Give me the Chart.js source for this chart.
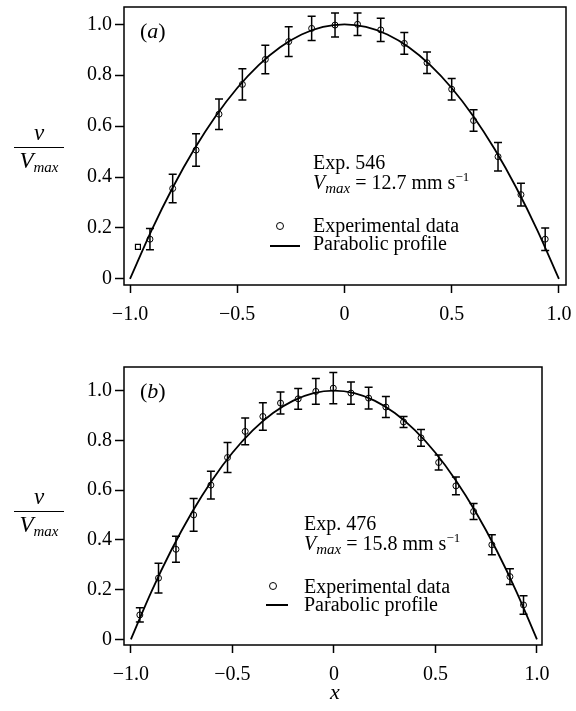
<!DOCTYPE html>
<html>
<head>
<meta charset="utf-8">
<script src="https://cdn.jsdelivr.net/npm/chart.js@4"></script>
<style>
  body { margin: 0; background: #fff; }
  #wrap { position: relative; width: 576px; height: 711px; font-family: "Liberation Serif", serif; color: #000; }
  canvas { position: absolute; left: 0; }
  .t { position: absolute; font-size: 20px; line-height: 20px; white-space: nowrap; }
  .i { font-style: italic; }
  sub { font-size: 15px; font-style: italic; vertical-align: -4px; line-height: 0; }
  sup { font-size: 13px; vertical-align: 8px; line-height: 0; }
  .frac { position: absolute; width: 50px; text-align: center; font-size: 23px; }
  .frac .num { font-style: italic; line-height: 24px; padding-bottom: 2px; border-bottom: 1.5px solid #000; }
  .frac .den { font-style: italic; line-height: 26px; }
  .lgcircle { position: absolute; width: 6px; height: 6px; border: 1px solid #000; border-radius: 50%; }
  .lgline { position: absolute; height: 2px; background: #000; }
</style>
</head>
<body>
<div id="wrap">
  <canvas id="chartA" width="576" height="330" style="top:0"></canvas>
  <canvas id="chartB" width="576" height="381" style="top:330px"></canvas>

  <div class="frac" style="left:14px; top:121px"><div class="num">v</div><div class="den">V<sub>max</sub></div></div>
  <div class="frac" style="left:14px; top:485px"><div class="num">v</div><div class="den">V<sub>max</sub></div></div>

  <div class="t" style="left:140px; top:21px; font-size:22px">(<span class="i">a</span>)</div>
  <div class="t" style="left:313px; top:152px">Exp. 546</div>
  <div class="t" style="left:313px; top:172px"><span class="i">V</span><sub>max</sub> = 12.7 mm s<sup>−1</sup></div>
  <div class="lgcircle" style="left:276px; top:222px"></div>
  <div class="t" style="left:313px; top:215px">Experimental data</div>
  <div class="lgline" style="left:270px; top:245px; width:30px"></div>
  <div class="t" style="left:313px; top:233px">Parabolic profile</div>

  <div class="t" style="left:140px; top:381px; font-size:22px">(<span class="i">b</span>)</div>
  <div class="t" style="left:304px; top:513px">Exp. 476</div>
  <div class="t" style="left:304px; top:533px"><span class="i">V</span><sub>max</sub> = 15.8 mm s<sup>−1</sup></div>
  <div class="lgcircle" style="left:269px; top:582px"></div>
  <div class="t" style="left:304px; top:576px">Experimental data</div>
  <div class="lgline" style="left:266px; top:604px; width:22px"></div>
  <div class="t" style="left:304px; top:594px">Parabolic profile</div>

  <div class="t i" style="left:330px; top:682px; font-size:22px">x</div>
</div>

<script>
// Data
const X_TICKS = [-1, -0.5, 0, 0.5, 1];
const Y_TICKS = [0, 0.2, 0.4, 0.6, 0.8, 1.0];

const PROFILE_X = [-1, -0.9, -0.8, -0.7, -0.6, -0.5, -0.4, -0.3, -0.2, -0.1, 0, 0.1, 0.2, 0.3, 0.4, 0.5, 0.6, 0.7, 0.8, 0.9, 1];
const PROFILE_Y = [0, 0.19, 0.36, 0.51, 0.64, 0.75, 0.84, 0.91, 0.96, 0.99, 1.0, 0.99, 0.96, 0.91, 0.84, 0.75, 0.64, 0.51, 0.36, 0.19, 0];

// (a) Exp. 546
const A_X = [-0.907, -0.801, -0.692, -0.585, -0.476, -0.369, -0.26, -0.153, -0.044, 0.061, 0.169, 0.279, 0.385, 0.5, 0.602, 0.716, 0.823, 0.936];
const A_Y = [0.156, 0.355, 0.506, 0.647, 0.764, 0.862, 0.932, 0.984, 0.997, 1.0, 0.978, 0.925, 0.849, 0.745, 0.622, 0.48, 0.331, 0.156];
const A_ERR = [0.042, 0.056, 0.064, 0.06, 0.061, 0.056, 0.058, 0.048, 0.047, 0.044, 0.046, 0.043, 0.042, 0.042, 0.042, 0.056, 0.045, 0.044];
const A_SQUARE_X = [-0.963];
const A_SQUARE_Y = [0.126];

// (b) Exp. 476
const B_X = [-0.956, -0.864, -0.778, -0.691, -0.606, -0.524, -0.437, -0.35, -0.263, -0.176, -0.089, -0.003, 0.084, 0.171, 0.256, 0.343, 0.429, 0.516, 0.601, 0.688, 0.778, 0.867, 0.934];
const B_Y = [0.098, 0.246, 0.362, 0.5, 0.62, 0.731, 0.836, 0.896, 0.95, 0.967, 0.997, 1.01, 0.99, 0.97, 0.934, 0.874, 0.81, 0.711, 0.617, 0.514, 0.38, 0.252, 0.138];
const B_ERR = [0.029, 0.06, 0.052, 0.066, 0.056, 0.06, 0.054, 0.055, 0.044, 0.042, 0.052, 0.063, 0.045, 0.044, 0.042, 0.022, 0.034, 0.03, 0.036, 0.032, 0.04, 0.032, 0.037];

const FONT = { family: "Liberation Serif", size: 20 };

function pairs(xs, ys) {
  return xs.map((x, i) => ({ x: x, y: ys[i] }));
}

function tickLabel(v) {
  if (v === 0) return "0";
  return (v < 0 ? "\u2212" : "") + Math.abs(v).toFixed(1);
}

// error bars + frame box
const errorBars = {
  id: "errorBars",
  afterDatasetsDraw(chart) {
    const ctx = chart.ctx;
    const xs = chart.scales.x;
    const ys = chart.scales.y;
    ctx.save();
    ctx.strokeStyle = "#000";
    ctx.lineWidth = 1.5;
    chart.data.datasets.forEach((ds) => {
      if (!ds.errors) return;
      ds.data.forEach((p, i) => {
        const px = xs.getPixelForValue(p.x);
        const top = ys.getPixelForValue(p.y + ds.errors[i]);
        const bot = ys.getPixelForValue(p.y - ds.errors[i]);
        ctx.beginPath();
        ctx.moveTo(px, top);
        ctx.lineTo(px, bot);
        ctx.moveTo(px - 4, top);
        ctx.lineTo(px + 4, top);
        ctx.moveTo(px - 4, bot);
        ctx.lineTo(px + 4, bot);
        ctx.stroke();
      });
    });
    const a = chart.chartArea;
    ctx.strokeRect(a.left, a.top, a.right - a.left, a.bottom - a.top);
    ctx.restore();
  },
};

function makeChart(id, opts) {
  const datasets = [
    {
      label: "Parabolic profile",
      data: pairs(PROFILE_X, PROFILE_Y),
      showLine: true,
      borderColor: "#000",
      borderWidth: 1.8,
      pointRadius: 0,
      cubicInterpolationMode: "monotone",
      order: 2,
    },
    {
      label: "Experimental data",
      data: pairs(opts.xs, opts.ys),
      errors: opts.errs,
      pointStyle: "circle",
      pointRadius: 3,
      pointBorderWidth: 1,
      pointBorderColor: "#000",
      pointBackgroundColor: "rgba(0,0,0,0)",
      showLine: false,
      order: 1,
    },
  ];
  if (opts.squareX) {
    datasets.push({
      label: "marker",
      data: pairs(opts.squareX, opts.squareY),
      pointStyle: "rect",
      pointRadius: 3.5,
      pointBorderWidth: 1.2,
      pointBorderColor: "#000",
      pointBackgroundColor: "rgba(0,0,0,0)",
      showLine: false,
    });
  }

  return new Chart(document.getElementById(id), {
    type: "scatter",
    data: { datasets: datasets },
    options: {
      responsive: false,
      animation: false,
      layout: { padding: opts.padding },
      plugins: { legend: { display: false }, tooltip: { enabled: false } },
      scales: {
        x: {
          type: "linear",
          min: opts.xMin,
          max: opts.xMax,
          afterBuildTicks: (s) => { s.ticks = X_TICKS.map((v) => ({ value: v })); },
          afterFit: (s) => { s.height = opts.xHeight; s.paddingLeft = 0; s.paddingRight = 0; },
          border: { display: false },
          grid: { drawOnChartArea: false, drawTicks: true, tickLength: 8, tickColor: "#000", tickWidth: 1.5 },
          ticks: { color: "#000", font: FONT, padding: 10, maxRotation: 0, callback: tickLabel },
        },
        y: {
          type: "linear",
          min: opts.yMin,
          max: opts.yMax,
          afterBuildTicks: (s) => { s.ticks = Y_TICKS.map((v) => ({ value: v })); },
          afterFit: (s) => { s.width = 124; s.paddingTop = 0; s.paddingBottom = 0; },
          border: { display: false },
          grid: { drawOnChartArea: false, drawTicks: true, tickLength: 9, tickColor: "#000", tickWidth: 1.5 },
          ticks: { color: "#000", font: FONT, padding: 3, callback: tickLabel },
        },
      },
    },
    plugins: [errorBars],
  });
}

makeChart("chartA", {
  xs: A_X, ys: A_Y, errs: A_ERR,
  squareX: A_SQUARE_X, squareY: A_SQUARE_Y,
  xMin: -1.028, xMax: 1.033, yMin: -0.024, yMax: 1.068,
  padding: { top: 7, right: 10, left: 0, bottom: 0 },
  xHeight: 45,
});

makeChart("chartB", {
  xs: B_X, ys: B_Y, errs: B_ERR,
  xMin: -1.034, xMax: 1.025, yMin: -0.023, yMax: 1.095,
  padding: { top: 37, right: 34, left: 0, bottom: 0 },
  xHeight: 66,
});
</script>
</body>
</html>
